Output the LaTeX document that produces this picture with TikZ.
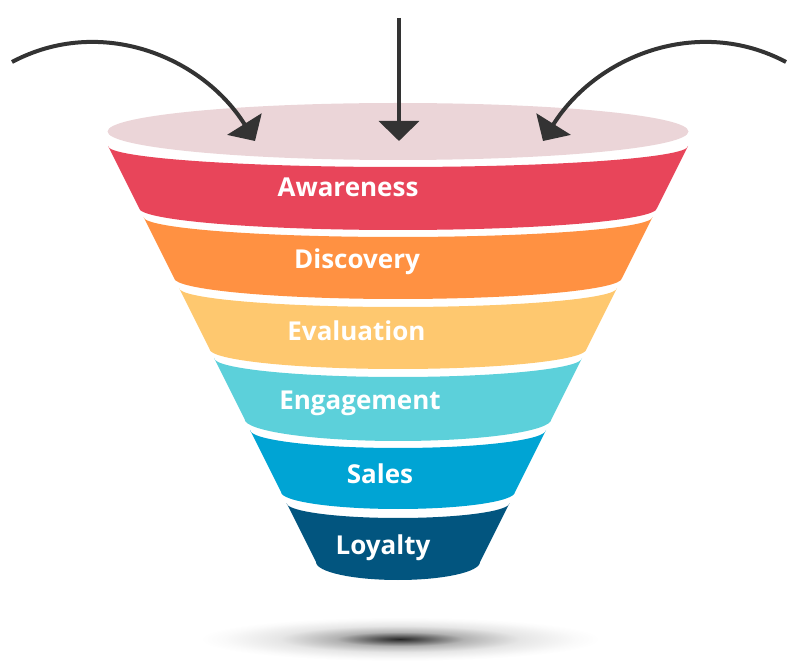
\documentclass[tikz,border=0pt]{standalone}
\usepackage{fontspec}
\setmainfont{Open Sans}
\usetikzlibrary{arrows.meta}

\definecolor{mouthcol}{HTML}{EBD5D8}
\definecolor{awarecol}{HTML}{E8455A}
\definecolor{discocol}{HTML}{FF9142}
\definecolor{evalcol}{HTML}{FEC86F}
\definecolor{engagecol}{HTML}{5CD0DA}
\definecolor{salescol}{HTML}{00A4D4}
\definecolor{loyalcol}{HTML}{02557F}
\definecolor{arrowgray}{HTML}{333333}

\pgfdeclareradialshading{floorshadow}{\pgfpoint{0bp}{0bp}}{color(0bp)=(black!85); color(3bp)=(black!65); color(8bp)=(black!30); color(15bp)=(black!10); color(22bp)=(black!2); color(25bp)=(white); color(50bp)=(white)}

\begin{document}
\begin{tikzpicture}[x=1pt, y=-1pt,
		arrowline/.style={line width=4pt, draw=arrowgray, -{Triangle[width=40pt,length=20pt]}},
		bandlabel/.style={text=white, anchor=base, font=\fontsize{26}{30}\selectfont\bfseries}]

		\pgfmathsetmacro{\cx}{398}
		\pgfmathsetmacro{\topw}{290}
		\pgfmathsetmacro{\topy}{146}
		\pgfmathsetmacro{\slope}{0.5}

		\useasboundingbox (0,0) rectangle (796,668);

		% draw shadow under the funnel
		\shade[shading=floorshadow] (400,639) ellipse (200 and 22);

		% draw funnel mouth
		\fill[mouthcol] (\cx,131.5) ellipse (290.5 and 28.5);

		% draw bands
		\foreach \yt/\yb/\st/\sb/\col/\name/\lx/\ly [count=\i] in {
			146/208/21/22/awarecol/Awareness/348/197,
			217/278/20/21/discocol/Discovery/357/269,
			288/349/19/20/evalcol/Evaluation/356.5/341,
			358/419/19/22/engagecol/Engagement/360/410,
			430/492/18/17/salescol/Sales/380/483,
			503/562/15/18/loyalcol/Loyalty/383/554}
		{
			\pgfmathsetmacro{\wt}{\topw - \slope * (\yt - \topy)}
			\pgfmathsetmacro{\wb}{\topw - \slope * (\yb - \topy)}
			\fill[\col] (\cx - \wt, \yt)
				arc[start angle=180, end angle=360, x radius=\wt pt, y radius=\st pt] -- % top edge
				(\cx + \wb, \yb)
				arc[start angle=0, end angle=-180, x radius=\wb pt, y radius=\sb pt] -- % bottom edge
				cycle;
			\node[bandlabel] (band\i) at (\lx, \ly) {\name};
		}

		% draw arrows into the mouth
		\coordinate (leftstart) at (12,62);
		\coordinate (lefttip) at (255,141);
		\coordinate (midstart) at (399,18);
		\coordinate (midtip) at (399,141);
		\coordinate (rightstart) at (786,62);
		\coordinate (righttip) at (543,141);

		\draw[arrowline] (leftstart) .. controls +(28:100pt) and +(122:100pt) .. (lefttip); % arrow from left
		\draw[arrowline] (midstart) -- (midtip); % arrow down
		\draw[arrowline] (rightstart) .. controls +(152:100pt) and +(58:100pt) .. (righttip); % arrow from right
	\end{tikzpicture}
\end{document}
